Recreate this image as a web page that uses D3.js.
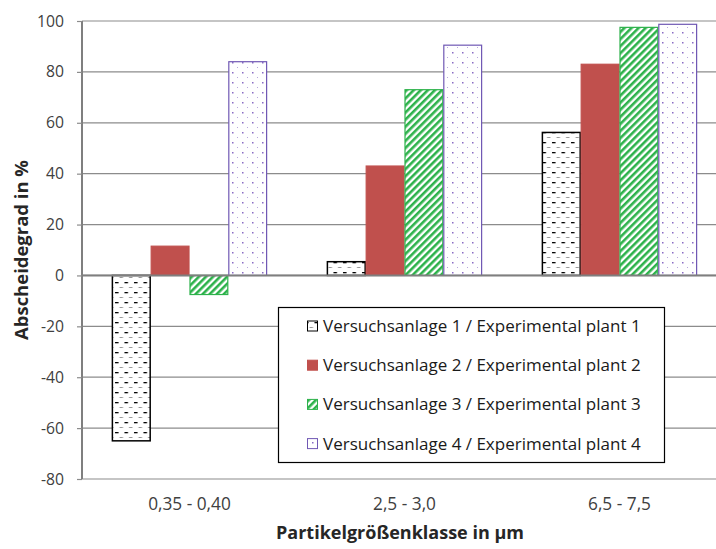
<!DOCTYPE html>
<html><head><meta charset="utf-8">
<script src="https://cdn.jsdelivr.net/npm/d3@7"></script>
<style>body{margin:0;background:#fff}svg{display:block}</style>
</head><body>
<svg id="c" width="716" height="549"></svg>
<script>
const categories = ["0,35 - 0,40", "2,5 - 3,0", "6,5 - 7,5"];
const seriesNames = ["Versuchsanlage 1 / Experimental plant 1","Versuchsanlage 2 / Experimental plant 2","Versuchsanlage 3 / Experimental plant 3","Versuchsanlage 4 / Experimental plant 4"];
const plant1 = [-65, 5.4, 56.2];
const plant2 = [11.5, 43, 83];
const plant3 = [-7.5, 73, 97.5];
const plant4 = [84, 90.5, 98.7];
const yTicks = [-80,-60,-40,-20,0,20,40,60,80,100];
const series = [plant1, plant2, plant3, plant4];

const svg = d3.select("#c");
const font = "'Open Sans', sans-serif";
const L = 82, R = 727, T = 21, B = 479;
const y = d3.scaleLinear().domain([-80,100]).range([B,T]);
const x0 = d3.scaleBand().domain(categories).range([L,R]).paddingInner(0.278).paddingOuter(0.139);
const x1 = d3.scaleBand().domain(d3.range(4)).range([0,x0.bandwidth()]);

function fit(sel, target){
  const node = sel.node();
  sel.attr("font-size", 20);
  const w = node.getComputedTextLength();
  return 20*target/w;
}

const defs = svg.append("defs");
// pattern 1: dashes (black and grey rows, offset)
const p1 = defs.append("pattern").attr("id","p1").attr("patternUnits","userSpaceOnUse").attr("width",9.5).attr("height",10);
p1.append("rect").attr("width",9.5).attr("height",10).attr("fill","#fff");
p1.append("rect").attr("x",1).attr("y",2).attr("width",3.5).attr("height",1.3).attr("fill","#000");
p1.append("rect").attr("x",5.5).attr("y",7).attr("width",3.5).attr("height",1).attr("fill","#999");
// pattern 3: diagonal stripes
const p3 = defs.append("pattern").attr("id","p3").attr("patternUnits","userSpaceOnUse").attr("width",5).attr("height",5).attr("patternTransform","rotate(45)");
p3.append("rect").attr("width",5).attr("height",5).attr("fill","#fff");
p3.append("rect").attr("x",0).attr("y",0).attr("width",2.6).attr("height",5).attr("fill","#2db24b");
// pattern 4: dots
const p4 = defs.append("pattern").attr("id","p4").attr("patternUnits","userSpaceOnUse").attr("width",10).attr("height",10);
p4.append("rect").attr("width",10).attr("height",10).attr("fill","#fff");
p4.append("rect").attr("x",2).attr("y",2).attr("width",1.5).attr("height",1.5).attr("fill","#8a6cc4");
p4.append("rect").attr("x",7).attr("y",7).attr("width",1).attr("height",1).attr("fill","#b8a6dc");

const fills = ["url(#p1)","#c0504d","url(#p3)","url(#p4)"];
const strokes = ["#000","#c0504d","#2db24b","#7058b4"];

// gridlines
svg.append("g").selectAll("line").data(yTicks).join("line")
  .attr("x1",L).attr("x2",716).attr("y1",d=>y(d)).attr("y2",d=>y(d))
  .attr("stroke","#8c8c8c").attr("stroke-width",1.2);

// y axis
const ya = svg.append("g").attr("transform",`translate(${L},0)`)
  .call(d3.axisLeft(y).tickValues(yTicks).tickSize(5).tickPadding(13).tickFormat(d=>String(d)));
ya.selectAll("path,line").attr("stroke","#8c8c8c").attr("stroke-width",1.2);
ya.select(".domain").attr("stroke","#7f7f7f").attr("stroke-width",2).attr("d",`M0,${T}V${B}`);

const tmp = svg.append("text").attr("font-family",font).text("100");
const tickSize = fit(tmp, 27); tmp.remove();
ya.selectAll("text").attr("font-family",font).attr("font-size",tickSize).attr("fill","#404040");

// bars
series.forEach((vals,s)=>{
  svg.append("g").selectAll("rect").data(vals).join("rect")
    .attr("x",(d,i)=>x0(categories[i])+x1(s)+0.5)
    .attr("y",d=>y(Math.max(0,d)))
    .attr("width",x1.bandwidth()-1)
    .attr("height",d=>Math.abs(y(d)-y(0)))
    .attr("fill",fills[s]).attr("stroke",strokes[s]).attr("stroke-width",s===0?1.5:1.2);
});

// zero line
svg.append("line").attr("x1",L).attr("x2",716).attr("y1",y(0)).attr("y2",y(0)).attr("stroke","#7f7f7f").attr("stroke-width",2);

// x labels
const catTexts = svg.append("g").selectAll("text").data(categories).join("text")
  .attr("x",d=>x0(d)+x0.bandwidth()/2).attr("y",510)
  .attr("text-anchor","middle").attr("font-family",font).attr("fill","#404040").text(d=>d);
const catSize = fit(catTexts.filter((d,i)=>i===1), 63);
catTexts.attr("font-size",catSize);

// axis titles
const xt = svg.append("text").attr("x",400).attr("y",539).attr("text-anchor","middle")
  .attr("font-family",font).attr("font-weight","bold").attr("fill","#262626").text("Partikelgrößenklasse in µm");
xt.attr("font-size", fit(xt, 248));
const ytl = svg.append("text").attr("transform","translate(28,250) rotate(-90)").attr("text-anchor","middle")
  .attr("font-family",font).attr("font-weight","bold").attr("fill","#262626").text("Abscheidegrad in %");
ytl.attr("font-size", fit(ytl, 180));

// legend
const lg = svg.append("g");
lg.append("rect").attr("x",278.5).attr("y",307.5).attr("width",386).attr("height",155).attr("fill","#fff").attr("stroke","#000").attr("stroke-width",1.2);
const legRows = [326, 365.2, 404.4, 443.6];
const legTexts = [];
seriesNames.forEach((n,i)=>{
  const cy = legRows[i];
  lg.append("rect").attr("x",307.5).attr("y",cy-5).attr("width",10).attr("height",10).attr("fill",fills[i]).attr("stroke",strokes[i]);
  legTexts.push(lg.append("text").attr("x",323).attr("y",cy).attr("dy","0.35em").attr("font-family",font).attr("fill","#1a1a1a").text(n));
});
const legSize = fit(legTexts[0], 318);
legTexts.forEach(t=>t.attr("font-size",legSize));
</script>
</body></html>
